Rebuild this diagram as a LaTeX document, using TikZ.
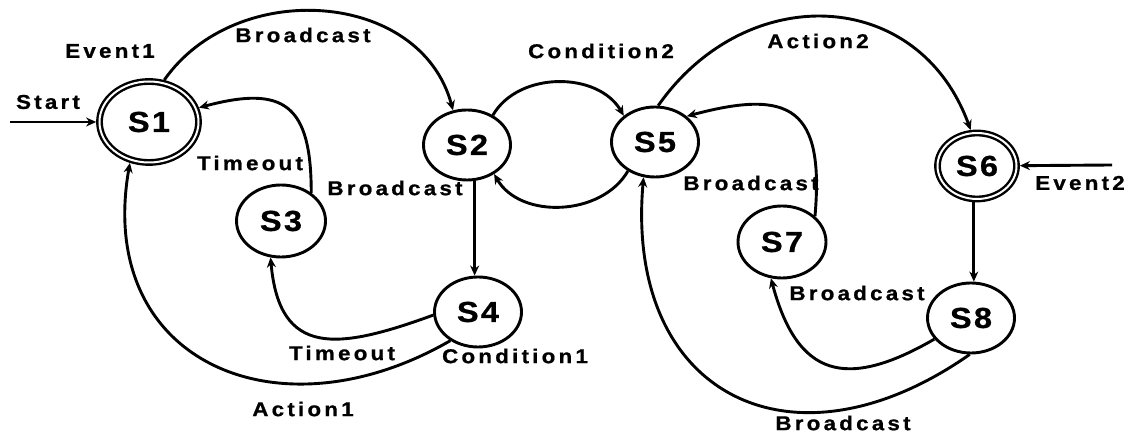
\documentclass[tikz,border=0pt]{standalone}
\usepackage{fontspec}
\usepackage{tikz}
\usetikzlibrary{arrows.meta, shapes.geometric}
\newfontfamily\statefont{Liberation Sans Bold}[LetterSpace=8,FakeBold=0.8,FakeStretch=1.12]
\newfontfamily\edgefont{Liberation Sans Bold}[LetterSpace=16,FakeBold=0.8,FakeStretch=1.12]

\begin{document}
\begin{tikzpicture}[x=1pt,y=1pt,line width=2.9pt,>={Stealth[length=10pt,width=9pt]},
        state/.style={ellipse,draw,inner sep=0pt,minimum width=87pt,minimum height=70pt,
                      font=\statefont\fontsize{29}{30}\selectfont},
        accepting/.style={double,double distance=2pt,line width=2.4pt,outer sep=3.4pt},
        lbl/.style={inner sep=0pt,font=\edgefont\fontsize{20}{22}\selectfont}]

      \useasboundingbox (0,0) rectangle (1132,435);

      \node[state,accepting,minimum width=99pt,minimum height=81pt] (S1) at (149,313) {S1};
      \node[state]                    (S2) at (467,290) {S2};
      \node[state,minimum width=89pt,minimum height=72pt] (S3) at (281,214) {S3};
      \node[state]                    (S4) at (478,123) {S4};
      \node[state]                    (S5) at (655,293) {S5};
      \node[state,accepting,minimum width=79pt,minimum height=66pt] (S6) at (977,269) {S6};
      \node[state,minimum width=88pt,minimum height=72pt] (S7) at (782,193) {S7};
      \node[state]                    (S8) at (971,117) {S8};

      \coordinate (in1) at (10,313);
      \coordinate (in6) at (1112,270);

      % left half
      \draw[->] (in1) -- (S1);
      \draw[->] (S1.70) to[out=55,in=105,looseness=1.1] (S2.112);
      \draw[->] (S3.43) to[out=90,in=15,looseness=1.6] (S1.16);
      \draw[->] (S2.-78) -- (S2.-78 |- S4.north);
      \draw[->] (S4.184) to[out=200,in=-85,looseness=1.5] (S3.254);
      \draw[->] (S4.226) to[out=210,in=-100,looseness=1.4] (S1.245);

      % between S2 and S5
      \draw[->] (S2.49) to[out=60,in=120] (S5.140);
      \draw[->] (S5.227) to[out=-120,in=-60] (S2.-47);

      % right half
      \draw[->] (S5.85) to[out=55,in=110,looseness=1.25] (S6.100);
      \draw[->] (in6) -- (S6);
      \draw[->] (S7.38) to[out=85,in=15,looseness=1.7] (S5.39);
      \draw[->] (S6.-95) -- (S6.-95 |- S8.north);
      \draw[->] (S8.210) to[out=210,in=-75,looseness=1.5] (S7.253);
      \draw[->] (S8.-92) to[out=215,in=-95,looseness=1.5] (S5.252);

      \node[lbl] (start)   at (48,333)  {Start};
      \node[lbl] (event1)  at (110,384) {Event1};
      \node[lbl] (bcast12) at (303,400) {Broadcast};
      \node[lbl] (tout31)  at (250,272) {Timeout};
      \node[lbl] (bcast31) at (395,247) {Broadcast};
      \node[lbl] (tout43)  at (342,82)  {Timeout};
      \node[lbl] (cond41)  at (515,79)  {Condition1};
      \node[lbl] (act41)   at (303,26)  {Action1};
      \node[lbl] (cond25)  at (601,384) {Condition2};
      \node[lbl] (act56)   at (818,394) {Action2};
      \node[lbl] (bcast75) at (751,252) {Broadcast};
      \node[lbl] (event2)  at (1080,252) {Event2};
      \node[lbl] (bcast87) at (857,142) {Broadcast};
      \node[lbl] (bcast85) at (843,12)  {Broadcast};
\end{tikzpicture}
\end{document}
